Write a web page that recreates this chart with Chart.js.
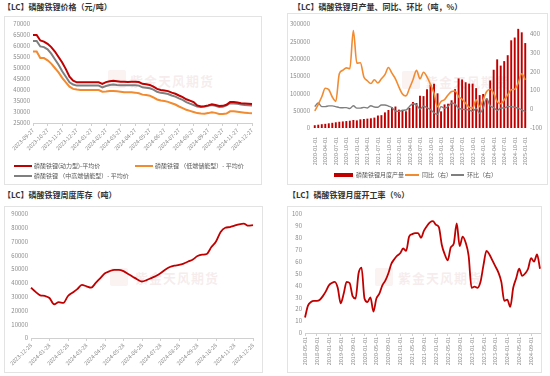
<!DOCTYPE html>
<html><head><meta charset="utf-8">
<script src="https://cdn.jsdelivr.net/npm/chart.js@4.4.1/dist/chart.umd.min.js"></script>
<style>
html,body{margin:0;padding:0;background:#fff;}
body{width:550px;height:376px;position:relative;overflow:hidden;font-family:'Noto Sans CJK SC','Noto Sans',sans-serif;}
.t{position:absolute;font-size:8px;font-weight:bold;color:#333;white-space:nowrap;line-height:10px;}
.box{position:absolute;border:1px solid #e3e3e3;box-sizing:border-box;}
canvas{position:absolute;}
.lg{position:absolute;font-size:6px;color:#595959;white-space:nowrap;line-height:8px;}
.sw{position:absolute;}
.wm{position:absolute;font-size:13px;font-weight:bold;color:rgba(214,170,170,0.22);white-space:nowrap;letter-spacing:1px;}
.wl{position:absolute;width:18px;height:18px;background:rgba(220,150,150,0.12);border-radius:2px;}
</style></head><body>
<div class="t" style="left:3px;top:2px">【LC】磷酸铁锂价格（元/吨）</div>
<div class="t" style="left:293px;top:2px">【LC】磷酸铁锂月产量、同比、环比（吨，%）</div>
<div class="t" style="left:3px;top:190px">【LC】磷酸铁锂周度库存（吨）</div>
<div class="t" style="left:288px;top:190px">【LC】磷酸铁锂月度开工率（%）</div>
<div class="box" style="left:4px;top:16px;width:258px;height:169px"></div>
<div class="box" style="left:287px;top:13px;width:261px;height:172px"></div>
<div class="box" style="left:4px;top:206px;width:259px;height:167px"></div>
<div class="box" style="left:287px;top:206px;width:255px;height:167px"></div>

<div class="wl" style="left:108px;top:70px"></div><div class="wm" style="left:130px;top:71px">紫金天风期货</div>
<div class="wl" style="left:402px;top:71px"></div><div class="wm" style="left:425px;top:72px">紫金天风期货</div>
<div class="wl" style="left:110px;top:268px"></div><div class="wm" style="left:135px;top:268px">紫金天风期货</div>
<div class="wl" style="left:375px;top:268px"></div><div class="wm" style="left:398px;top:268px">紫金天风期货</div>

<canvas id="c1" width="258" height="169" style="left:4px;top:16px"></canvas>
<canvas id="c2" width="261" height="172" style="left:287px;top:13px"></canvas>
<canvas id="c3" width="259" height="167" style="left:4px;top:206px"></canvas>
<canvas id="c4" width="255" height="167" style="left:287px;top:206px"></canvas>

<div class="sw" style="left:14px;top:165px;width:18px;height:2px;background:#C00000"></div>
<div class="lg" style="left:34px;top:162px">磷酸铁锂(动力型)-平均价</div>
<div class="sw" style="left:135px;top:165px;width:18px;height:2px;background:#F28A30"></div>
<div class="lg" style="left:155px;top:162px">磷酸铁锂 （低端储能型）- 平均价</div>
<div class="sw" style="left:14px;top:175px;width:18px;height:2px;background:#7F7F7F"></div>
<div class="lg" style="left:34px;top:172px">磷酸铁锂 （中高端储能型）- 平均价</div>

<div class="sw" style="left:334px;top:173px;width:19px;height:4px;background:#C00000"></div>
<div class="lg" style="left:356px;top:171px">磷酸铁锂月度产量</div>
<div class="sw" style="left:405px;top:174px;width:14px;height:2px;background:#F28A30"></div>
<div class="lg" style="left:422px;top:171px">同比（右）</div>
<div class="sw" style="left:451px;top:174px;width:13px;height:2px;background:#7F7F7F"></div>
<div class="lg" style="left:467px;top:171px">环比（右）</div>

<script>
// ---------- Chart 1: prices ----------
const dates1 = ['2023-09-27','2023-10-04','2023-10-12','2023-10-19','2023-10-27','2023-11-04','2023-11-12','2023-11-19','2023-11-27','2023-12-04','2023-12-12','2023-12-19','2023-12-27',
'2024-01-04','2024-01-12','2024-01-19','2024-01-27','2024-02-04','2024-02-12','2024-02-19','2024-02-27','2024-03-04','2024-03-12','2024-03-19','2024-03-27',
'2024-04-04','2024-04-12','2024-04-19','2024-04-27','2024-05-04','2024-05-12','2024-05-19','2024-05-27','2024-06-04','2024-06-12','2024-06-19','2024-06-27',
'2024-07-04','2024-07-12','2024-07-19','2024-07-27','2024-08-04','2024-08-12','2024-08-19','2024-08-27','2024-09-04','2024-09-12','2024-09-19','2024-09-27',
'2024-10-04','2024-10-12','2024-10-19','2024-10-27','2024-11-04','2024-11-12','2024-11-19','2024-11-27','2024-12-04','2024-12-12','2024-12-19','2024-12-27'];
const priceEV = [65000,65000,62500,62000,61000,59500,57500,55000,52500,49500,46000,44200,43500,
43500,43500,43500,43500,43500,43500,42800,43600,44000,44200,44000,43800,
43800,43600,43800,43800,43600,42800,42600,42300,41500,40500,40000,39800,
39500,38800,38300,37500,36800,35800,35200,34500,33000,32500,32600,33000,
33500,33200,32700,32800,33300,34500,34500,34300,34000,33900,33800,33600];
const priceLowESS = [57500,57500,54500,54500,53500,52000,50000,48000,45500,43500,41500,40500,40200,
40000,40000,40000,40000,40000,40000,39200,39300,39500,39500,39400,39200,
39000,39000,39000,38800,38500,37900,37700,37400,36600,35700,35200,35000,
34600,34000,33400,32500,31800,31000,30500,30000,29500,29300,29200,29500,
29900,29600,29100,29100,29300,30300,30300,30100,29900,29700,29500,29400];
const priceMidESS = [62300,62300,59800,59500,58500,56500,54000,51500,48500,46000,43500,42500,42000,
42000,42000,42000,42000,42000,42000,41200,41800,42300,42500,42300,42200,
42200,42200,42200,42200,42000,41200,41000,40800,40200,39200,38700,38500,
38200,37500,37000,36200,35500,34500,33800,33200,32500,32300,32500,32800,
33200,32800,32300,32400,33000,34000,33900,33700,33400,33200,33100,33000];

// ---------- Chart 2: monthly output ----------
const months2 = ['2020-01-01','2020-02-01','2020-03-01','2020-04-01','2020-05-01','2020-06-01','2020-07-01','2020-08-01','2020-09-01','2020-10-01','2020-11-01','2020-12-01',
'2021-01-01','2021-02-01','2021-03-01','2021-04-01','2021-05-01','2021-06-01','2021-07-01','2021-08-01','2021-09-01','2021-10-01','2021-11-01','2021-12-01',
'2022-01-01','2022-02-01','2022-03-01','2022-04-01','2022-05-01','2022-06-01','2022-07-01','2022-08-01','2022-09-01','2022-10-01','2022-11-01','2022-12-01',
'2023-01-01','2023-02-01','2023-03-01','2023-04-01','2023-05-01','2023-06-01','2023-07-01','2023-08-01','2023-09-01','2023-10-01','2023-11-01','2023-12-01',
'2024-01-01','2024-02-01','2024-03-01','2024-04-01','2024-05-01','2024-06-01','2024-07-01','2024-08-01','2024-09-01','2024-10-01','2024-11-01','2024-12-01','2025-01-01'];
const output = [8000,9500,11000,12000,13500,15000,16500,18000,19000,20000,21000,23000,
22000,25000,26000,27000,28000,30000,36000,37000,45000,52000,60000,62000,
53000,50000,48000,58000,75000,72000,93000,92000,112000,125000,128000,100000,
48000,68000,70000,80000,112000,143000,140000,132000,128000,128000,115000,95000,
98000,85000,137000,168000,198000,180000,193000,210000,253000,261000,286000,276000,245000];
const yoy = [-10,25,65,110,103,64,41,187,205,218,213,415,
243,245,170,150,135,155,138,160,182,220,190,160,
116,80,70,110,155,205,160,195,170,130,84,13,
40,50,75,93,96,66,52,31,10,5,49,13,
49,93,105,84,40,28,49,75,102,105,138,187,155];
const mom = [13,32,13,13,17,17,13,8,7,8,3,18,
5,5,9,6,18,11,10,22,22,16,8,-10,
-12,-6,-5,14,28,21,0,15,7,-3,-20,-28,
13,5,14,32,26,5,0,-3,-4,-12,4,-22,
5,55,17,8,-6,5,6,13,13,10,5,-4,-13];

// ---------- Chart 3: weekly inventory ----------
const weeks3 = ['2023-12-28','2024-01-05','2024-01-13','2024-01-21','2024-01-28','2024-02-05','2024-02-13','2024-02-21','2024-02-28','2024-03-05','2024-03-13','2024-03-21','2024-03-28',
'2024-04-05','2024-04-13','2024-04-21','2024-04-28','2024-05-05','2024-05-13','2024-05-21','2024-05-28','2024-06-05','2024-06-13','2024-06-21','2024-06-28',
'2024-07-05','2024-07-13','2024-07-21','2024-07-28','2024-08-05','2024-08-13','2024-08-21','2024-08-28','2024-09-05','2024-09-13','2024-09-21','2024-09-28',
'2024-10-05','2024-10-13','2024-10-21','2024-10-28','2024-11-05','2024-11-13','2024-11-21','2024-11-28','2024-12-05','2024-12-13','2024-12-21','2024-12-28'];
const inventory = [36500,33500,31000,30500,29000,24500,26000,25500,30500,33000,35500,38500,37500,
36500,40000,43500,47000,48500,49500,49500,48500,46500,44500,42500,41000,
42000,43500,45000,47000,49500,51500,52500,53000,54000,55500,57000,59500,
60500,61000,66000,70000,77000,80000,80500,81500,82500,83000,81500,82000];

// ---------- Chart 4: monthly operating rate ----------
const months4 = ['2018-05-01','2018-06-01','2018-07-01','2018-08-01','2018-09-01','2018-10-01','2018-11-01','2018-12-01',
'2019-01-01','2019-02-01','2019-03-01','2019-04-01','2019-05-01','2019-06-01','2019-07-01','2019-08-01','2019-09-01','2019-10-01','2019-11-01','2019-12-01',
'2020-01-01','2020-02-01','2020-03-01','2020-04-01','2020-05-01','2020-06-01','2020-07-01','2020-08-01','2020-09-01','2020-10-01','2020-11-01','2020-12-01',
'2021-01-01','2021-02-01','2021-03-01','2021-04-01','2021-05-01','2021-06-01','2021-07-01','2021-08-01','2021-09-01','2021-10-01','2021-11-01','2021-12-01',
'2022-01-01','2022-02-01','2022-03-01','2022-04-01','2022-05-01','2022-06-01','2022-07-01','2022-08-01','2022-09-01','2022-10-01','2022-11-01','2022-12-01',
'2023-01-01','2023-02-01','2023-03-01','2023-04-01','2023-05-01','2023-06-01','2023-07-01','2023-08-01','2023-09-01','2023-10-01','2023-11-01','2023-12-01',
'2024-01-01','2024-02-01','2024-03-01','2024-04-01','2024-05-01','2024-06-01','2024-07-01','2024-08-01','2024-09-01','2024-10-01','2024-11-01','2024-12-01'];
const opRate = [13,23,26,27,27,28,31,35,40,42,43,38,25,33,43,42,31,29,50,55,
29,26,30,18,29,33,40,44,50,58,62,65,67,71,69,81,83,84,84,80,
86,90,93,94,91,89,74,66,61,72,75,92,73,81,76,65,38,39,38,43,
57,69,66,61,56,51,43,27,28,22,38,46,54,48,50,54,63,60,66,54];

// ---------- common ----------
const FONT = "'Noto Sans CJK SC','Noto Sans',sans-serif";
Chart.defaults.font.family = FONT;
Chart.defaults.color = '#7f7f7f';
const tickFont = {size:6, family:FONT};
function fixX(h){ return s => { s.height = h; s.paddingLeft = 0; s.paddingRight = 0; }; }
function fixY(w){ return s => { s.width = w; s.paddingTop = 0; s.paddingBottom = 0; }; }
function keep(pred, labels){ return s => { s.ticks = s.ticks.filter(t => pred(labels[t.value], t.value)); }; }
const base = {responsive:false, animation:false, events:[],
  plugins:{legend:{display:false}, tooltip:{enabled:false}}};
const xLine = (labels, pred, rot, h) => ({
  grid:{drawOnChartArea:false, drawTicks:true, tickLength:3, color:'#d0d0d0'},
  border:{display:true, color:'#d0d0d0'},
  ticks:{autoSkip:false, maxRotation:rot, minRotation:rot, font:{size:5.5, family:FONT}, color:'#8c8c8c', padding:1},
  afterBuildTicks: keep(pred, labels), afterFit: fixX(h)
});
const yLin = (min,max,step,w,pos) => ({
  position: pos||'left', min, max,
  grid:{display:false, drawTicks:false, tickLength:0}, border:{display:false},
  ticks:{stepSize:step, font:tickFont, color:'#8c8c8c', padding:3, callback: v => String(v)},
  afterFit: fixY(w)
});

// Chart 1
new Chart(document.getElementById('c1'), {
  type:'line',
  data:{labels:dates1, datasets:[
    {label:'磷酸铁锂(动力型)-平均价', data:priceEV, borderColor:'#C00000', borderWidth:2, pointRadius:0, tension:0},
    {label:'磷酸铁锂（低端储能型）- 平均价', data:priceLowESS, borderColor:'#F28A30', borderWidth:2, pointRadius:0, tension:0},
    {label:'磷酸铁锂 （中高端储能型）- 平均价', data:priceMidESS, borderColor:'#7F7F7F', borderWidth:2, pointRadius:0, tension:0}
  ]},
  options:Object.assign({}, base, {
    layout:{padding:{top:8, right:10, bottom:22, left:0}},
    scales:{ x: xLine(dates1, l => l.endsWith('-27'), 45, 40), y: yLin(25000,70000,5000,29) }
  })
});

// Chart 2
new Chart(document.getElementById('c2'), {
  type:'bar',
  data:{labels:months2, datasets:[
    {type:'line', label:'同比（右）', data:yoy, yAxisID:'y1', borderColor:'#F28A30', borderWidth:1.6, pointRadius:0, tension:0.3, cubicInterpolationMode:'monotone', order:1},
    {type:'line', label:'环比（右）', data:mom, yAxisID:'y1', borderColor:'#7F7F7F', borderWidth:1.4, pointRadius:0, tension:0.3, cubicInterpolationMode:'monotone', order:2},
    {type:'bar', label:'磷酸铁锂月度产量', data:output, yAxisID:'y', backgroundColor:'#C00000', barPercentage:0.55, categoryPercentage:1, order:3}
  ]},
  options:Object.assign({}, base, {
    layout:{padding:{top:11, right:0, bottom:17, left:0}},
    scales:{
      x: Object.assign(xLine(months2, (l,i) => i % 3 === 0, 90, 40), {grid:{display:false}, border:{display:false}}),
      y: yLin(0,300000,50000,26),
      y1: yLin(-100,450,50,21,'right')
    }
  })
});

// Chart 3
new Chart(document.getElementById('c3'), {
  type:'line',
  data:{labels:weeks3, datasets:[
    {label:'库存', data:inventory, borderColor:'#C00000', borderWidth:1.8, pointRadius:0, tension:0.3, cubicInterpolationMode:'monotone'}
  ]},
  options:Object.assign({}, base, {
    layout:{padding:{top:8, right:10, bottom:5, left:0}},
    scales:{ x: xLine(weeks3, l => l.endsWith('-28'), 45, 30), y: yLin(0,90000,10000,27) }
  })
});

// Chart 4
new Chart(document.getElementById('c4'), {
  type:'line',
  data:{labels:months4, datasets:[
    {label:'开工率', data:opRate, borderColor:'#C00000', borderWidth:1.8, pointRadius:0, tension:0.3, cubicInterpolationMode:'monotone'}
  ]},
  options:Object.assign({}, base, {
    layout:{padding:{top:8, right:2, bottom:5, left:0}},
    scales:{ x: xLine(months4, (l,i) => i % 4 === 0, 90, 35), y: yLin(0,100,10,18) }
  })
});
</script>
</body></html>
